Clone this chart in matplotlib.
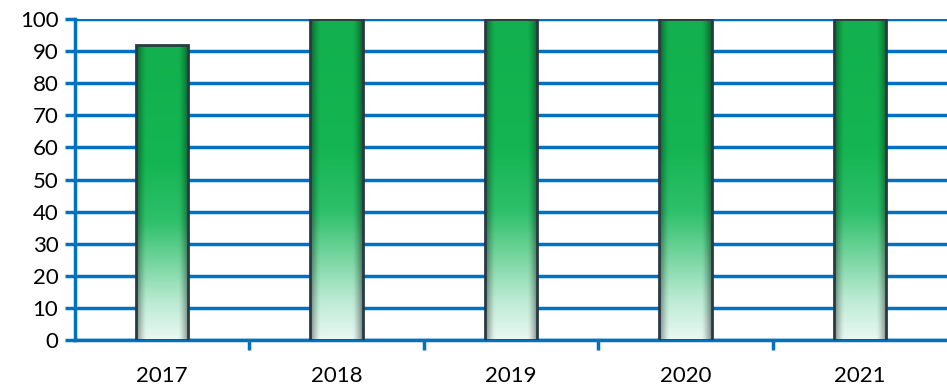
import numpy as np
import matplotlib.pyplot as plt
from matplotlib.colors import LinearSegmentedColormap

# data
years = ['2017', '2018', '2019', '2020', '2021']
values = [92, 100, 100, 100, 100]

blue = '#0070C0'
plt.rcParams['font.family'] = ['Lato', 'DejaVu Sans']

fig = plt.figure(figsize=(9.47, 3.87), dpi=100)
ax = fig.add_axes([75 / 947, 47 / 387, 872 / 947, 321 / 387])

x = np.arange(len(years))
bar_w = 0.3
bars = ax.bar(x, values, width=bar_w, color='none', edgecolor='#2A3A44', linewidth=2, zorder=4)

# vertical green -> pale gradient with darker side edges
cmap = LinearSegmentedColormap.from_list(
    'g', [(0.0, '#E8F8F2'), (0.12, '#BDEBD4'), (0.4, '#2EC06A'), (0.6, '#14B552'), (1.0, '#12B04E')])
ny, nx = 200, 60
vert = np.linspace(0, 1, ny)[:, None]
rgb = cmap(np.repeat(vert, nx, axis=1))[:, :, :3]
hx = np.linspace(-1, 1, nx)[None, :]
shade = 1 - 0.45 * np.clip((np.abs(hx) - 0.6) / 0.4, 0, 1) ** 1.5
rgb = rgb * shade[:, :, None]

for b in bars:
    x0, y0 = b.get_x(), b.get_y()
    w, h = b.get_width(), b.get_height()
    im = ax.imshow(rgb, extent=[x0, x0 + w, y0, y0 + h], origin='lower',
                   aspect='auto', zorder=3, interpolation='bilinear')
    im.set_clip_path(b)

ax.set_xlim(-0.5, len(years) - 0.5)
ax.set_ylim(0, 100)
ax.set_yticks(range(0, 101, 10))
ax.yaxis.grid(True, color=blue, linewidth=2.5, zorder=1)
ax.set_axisbelow(True)

for s in ['top', 'right']:
    ax.spines[s].set_visible(False)
ax.spines['left'].set_color(blue)
ax.spines['left'].set_linewidth(2.5)
ax.spines['bottom'].set_color(blue)
ax.spines['bottom'].set_linewidth(2.5)

ax.set_xticks(np.arange(0.5, len(years) - 1, 1))
ax.set_xticklabels([])
ax.set_xticks(x, minor=True)
ax.set_xticklabels(years, minor=True)
ax.tick_params(axis='x', which='major', length=7, width=2.5, color=blue)
ax.tick_params(axis='x', which='minor', length=0, pad=19, labelsize=16)
ax.tick_params(axis='y', length=7, width=2.5, color=blue, labelsize=16, pad=5)

fig.savefig('out.png', dpi=100)
